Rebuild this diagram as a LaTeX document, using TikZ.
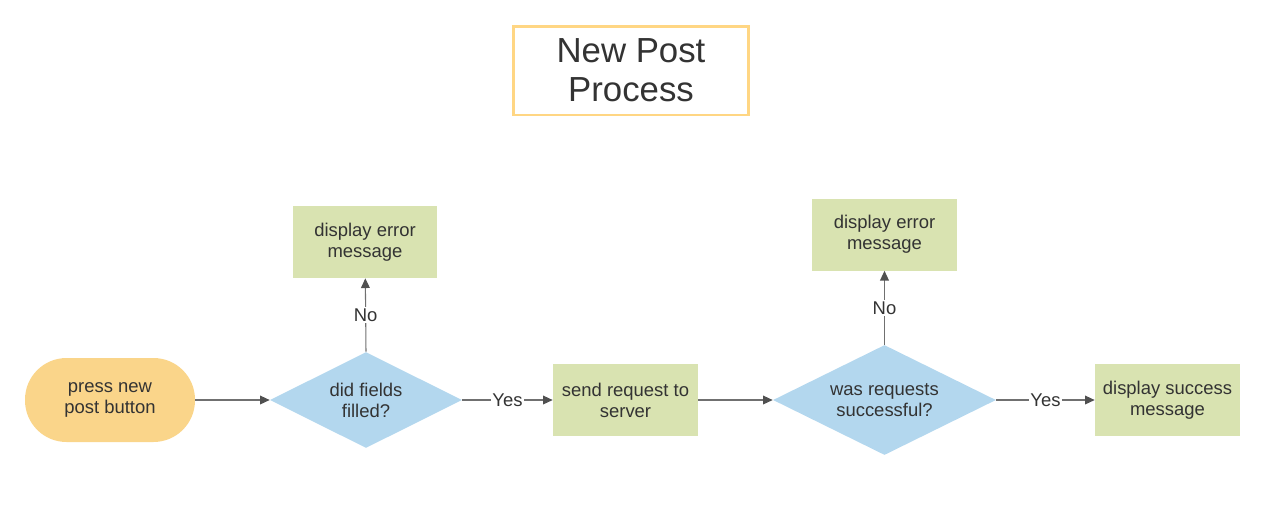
\documentclass[tikz,border=0pt]{standalone}
\usepackage{xcolor}
\usepackage{fontspec}
\setmainfont{Liberation Sans}
\usepackage{tikz}
\usetikzlibrary{shapes, positioning, arrows.meta, calc}

\definecolor{txtgray}{HTML}{333333}
\definecolor{linegray}{HTML}{707070}
\definecolor{tipgray}{HTML}{505050}
\definecolor{startfill}{HTML}{FAD58A}
\definecolor{titleborder}{HTML}{FFD683}
\definecolor{decfill}{HTML}{B3D7EE}
\definecolor{procfill}{HTML}{D9E3B1}

\tikzset{
  base/.style={text=txtgray, font=\fontsize{10.5}{12}\selectfont, align=center, inner sep=0pt},
  titlebox/.style={base, draw=titleborder, line width=1.7pt, minimum width=4.7cm, minimum height=1.78cm, font=\fontsize{19.8}{22}\selectfont},
  startbox/.style={base, fill=startfill, minimum width=3.4cm, minimum height=1.68cm, rounded corners=0.83cm},
  decbox/.style={base, diamond, shape aspect=2, fill=decfill},
  procbox/.style={base, fill=procfill, minimum width=2.9cm, minimum height=1.44cm},
  conn/.style={draw=linegray, line width=0.6pt, -{Triangle[length=5.5pt, width=5pt, fill=tipgray, color=tipgray]}},
  lbl/.style={fill=white, text=txtgray, font=\fontsize{10.5}{11}\selectfont, inner sep=1pt}
}

\begin{document}
\begin{tikzpicture}[x=0.02cm, y=-0.02cm]

\useasboundingbox (0,0) rectangle (1262,512);

%//title
\node [titlebox] (title) at (631,70.5) {New Post\\Process};

%//main row
\node [startbox] (start) at (110,400) {press new\\post button};
\node [decbox, minimum width=3.84cm, minimum height=1.92cm] (fields) at (366,400) {did fields\\filled?};
\node [procbox] (send) at (625.5,400) {send request to\\server};
\node [decbox, minimum width=4.46cm, minimum height=2.2cm] (ok) at (884.5,400) {was requests\\successful?};
\node [procbox] (success) at (1167.5,400) {display success\\message};

%//error boxes
\node [procbox] (err1) at (365,242) {display error\\message};
\node [procbox] (err2) at (884.5,234.5) {display error\\message};

%//connectors
\draw [conn] (start) -- (fields);
\draw [conn] (fields) -- node [lbl] {Yes} (send);
\draw [conn] (fields.north) -- node [lbl] {No} (err1);
\draw [conn] (send) -- (ok);
\draw [conn] (ok) -- node [lbl] {Yes} (success);
\draw [conn] (ok.north) -- node [lbl] {No} (err2);

\end{tikzpicture}
\end{document}
